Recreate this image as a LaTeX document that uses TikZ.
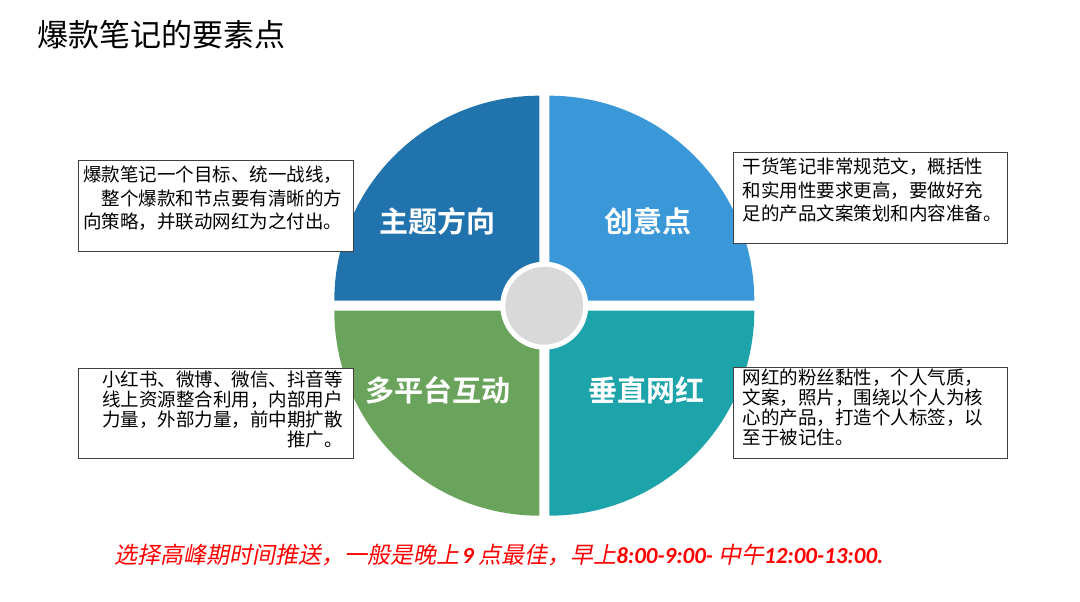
\documentclass[tikz,border=0pt]{standalone}
\usepackage{fontspec}
\setmainfont{Noto Sans CJK SC}[BoldFont={Noto Sans CJK SC Bold}]
\newfontfamily\slcjk{Noto Sans CJK SC}[FakeSlant=0.2]
\newfontfamily\carl{Carlito}
\usetikzlibrary{positioning,calc}
\definecolor{qa}{RGB}{33,115,174}
\definecolor{qb}{RGB}{58,151,216}
\definecolor{qc}{RGB}{106,163,91}
\definecolor{qd}{RGB}{29,163,170}
\definecolor{hub}{RGB}{217,217,217}
\definecolor{boxline}{RGB}{64,64,64}
\tikzset{
  bx/.style={draw=boxline,fill=white,line width=1.1pt,minimum width=275pt,minimum height=91pt,inner sep=0pt,anchor=north west},
  txt/.style={inner sep=0pt,font=\fontsize{18.5}{23.5}\selectfont},
  lbl/.style={text=white,inner sep=0pt,font=\fontsize{29}{29}\selectfont\bfseries},
  note/.style={text=red,inner sep=0pt,font=\fontsize{23}{23}\selectfont},
}
\begin{document}
\begin{tikzpicture}[x=1pt,y=1pt]
  \useasboundingbox (0,0) rectangle (1080,602);
  \node[anchor=west,inner sep=0pt,font=\fontsize{31}{31}\selectfont] (title) at (37,567) {爆款笔记的要素点};
  \coordinate (o) at (544.3,296.3);
  \foreach \s/\c in {90/qa,0/qb,180/qc,270/qd}
    \fill[\c] ($(o)+(\s+45:7.07pt)$) -- ++(\s:205pt) arc[start angle=\s,delta angle=90,radius=205pt] -- cycle;
  \node[circle,fill=hub,draw=white,line width=5pt,minimum size=83pt,inner sep=0pt] (hub) at (o) {};
  \node[lbl] (topic) at (437.5,380.5) {主题方向};
  \node[lbl] (idea) at (648,381) {创意点};
  \node[lbl] (multi) at (437.5,212) {多平台互动};
  \node[lbl] (vert) at (646.7,212) {垂直网红};
  \node[bx] (b1) at (78,442) {};
  \node[bx,minimum width=274pt] (b2) at (733,450) {};
  \node[bx,minimum height=90pt] (b3) at (78,234) {};
  \node[bx,minimum width=274pt] (b4) at (733,235) {};
  \node[txt,align=left,below right=6pt and 5pt of b1.north west] (t1) {爆款笔记一个目标、统一战线，\\\hspace*{1em}整个爆款和节点要有清晰的方\\向策略，并联动网红为之付出。};
  \node[txt,align=left,below right=6pt and 9.7pt of b2.north west] (t2) {干货笔记非常规范文，概括性\\和实用性要求更高，要做好充\\足的产品文案策划和内容准备。};
  \node[txt,align=right,font=\fontsize{18.5}{20}\selectfont,below left=3pt and 11pt of b3.north east] (t3) {小红书、微博、微信、抖音等\\线上资源整合利用，内部用户\\力量，外部力量，前中期扩散\\推广。};
  \node[txt,align=left,font=\fontsize{18.5}{20}\selectfont,below right=2pt and 9.7pt of b4.north west] (t4) {网红的粉丝黏性，个人气质，\\文案，照片，围绕以个人为核\\心的产品，打造个人标签，以\\至于被记住。};
  \node[note] (tip) at (499,47) {\slcjk 选择高峰期时间推送，一般是晚上\hspace{0.1em}{\carl\bfseries\itshape 9}\hspace{0.2em}点最佳，早上{\carl\bfseries\itshape 8:00-9:00-} 中午{\carl\bfseries\itshape 12:00-13:00.}};
\end{tikzpicture}
\end{document}
